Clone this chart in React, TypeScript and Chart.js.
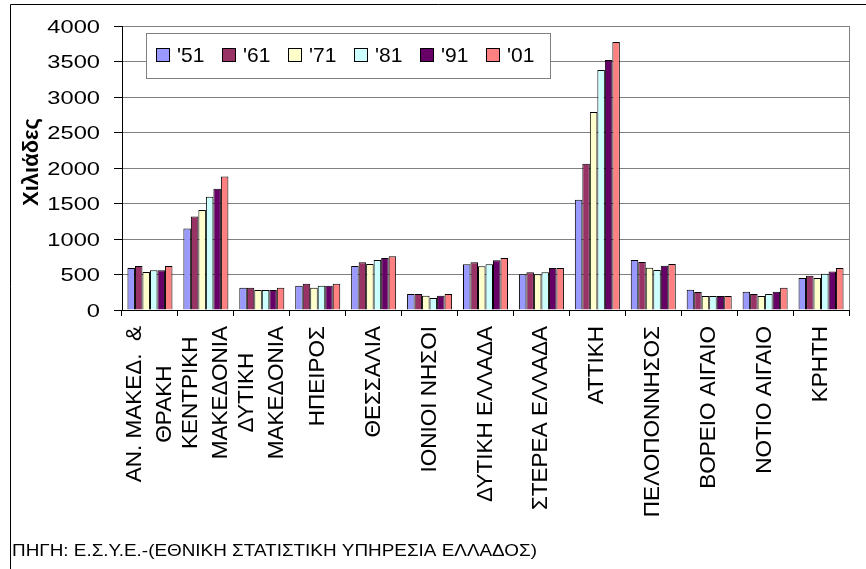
import React, { useEffect, useRef } from "react";
import { Chart, registerables } from "chart.js";

Chart.register(...registerables);

// ---------- data ----------
const categories: (string | string[])[] = [
  ["ΑΝ. ΜΑΚΕΔ.  &", "ΘΡΑΚΗ"],
  ["ΚΕΝΤΡΙΚΗ", "ΜΑΚΕΔΟΝΙΑ"],
  ["ΔΥΤΙΚΗ", "ΜΑΚΕΔΟΝΙΑ"],
  "ΗΠΕΙΡΟΣ",
  "ΘΕΣΣΑΛΙΑ",
  "ΙΟΝΙΟΙ ΝΗΣΟΙ",
  "ΔΥΤΙΚΗ ΕΛΛΑΔΑ",
  "ΣΤΕΡΕΑ ΕΛΛΑΔΑ",
  "ΑΤΤΙΚΗ",
  "ΠΕΛΟΠΟΝΝΗΣΟΣ",
  "ΒΟΡΕΙΟ ΑΙΓΑΙΟ",
  "ΝΟΤΙΟ ΑΙΓΑΙΟ",
  "ΚΡΗΤΗ",
];

const seriesLabels = ["'51", "'61", "'71", "'81", "'91", "'01"];
const seriesColors = ["#9999FF", "#993366", "#FFFFCC", "#CCFFFF", "#660066", "#FF8080"];

const y1951 = [592, 1148, 312, 340, 620, 224, 644, 504, 1552, 704, 286, 258, 450];
const y1961 = [620, 1316, 312, 368, 672, 224, 672, 532, 2059, 675, 253, 225, 483];
const y1971 = [536, 1409, 280, 312, 648, 200, 616, 504, 2790, 595, 197, 197, 450];
const y1981 = [560, 1596, 280, 340, 704, 168, 644, 532, 3381, 563, 197, 225, 511];
const y1991 = [560, 1708, 280, 340, 732, 200, 700, 592, 3522, 623, 197, 258, 544];
const y2001 = [620, 1880, 312, 368, 756, 224, 732, 592, 3775, 647, 197, 314, 591];

const seriesValues = [y1951, y1961, y1971, y1981, y1991, y2001];

const yMin = 0;
const yMax = 4000;
const yStep = 500;
const yTitle = "Χιλιάδες";
const sourceNote = "ΠΗΓΗ: Ε.Σ.Υ.Ε.-(ΕΘΝΙΚΗ ΣΤΑΤΙΣΤΙΚΗ ΥΠΗΡΕΣΙΑ ΕΛΛΑΔΟΣ)";

const FONT = "'Liberation Sans', Arial, sans-serif";

const decorPlugin = {
  id: "decor",
  beforeDraw(chart: any) {
    const ctx = chart.ctx as CanvasRenderingContext2D;
    ctx.save();
    ctx.fillStyle = "#ffffff";
    ctx.fillRect(0, 0, chart.width, chart.height);
    ctx.strokeStyle = "#000000";
    ctx.lineWidth = 1;
    ctx.beginPath();
    ctx.moveTo(10.5, chart.height);
    ctx.lineTo(10.5, 4.5);
    ctx.lineTo(chart.width, 4.5);
    ctx.stroke();
    ctx.restore();
  },
  afterDraw(chart: any) {
    const ctx = chart.ctx as CanvasRenderingContext2D;
    const ca = chart.chartArea;
    const xs = chart.scales.x;
    const ys = chart.scales.y;

    ctx.save();
    // plot area right border
    ctx.strokeStyle = "#808080";
    ctx.lineWidth = 1;
    ctx.beginPath();
    ctx.moveTo(Math.round(ca.right) + 0.5, ca.top);
    ctx.lineTo(Math.round(ca.right) + 0.5, ca.bottom);
    ctx.stroke();

    ctx.fillStyle = "#000000";

    // y tick labels (horizontally stretched like the original)
    const yFont = 18.5;
    ctx.font = `${yFont}px ${FONT}`;
    ctx.textAlign = "right";
    ctx.textBaseline = "alphabetic";
    ys.ticks.forEach((t: any) => {
      const py = ys.getPixelForValue(t.value);
      ctx.save();
      ctx.translate(ca.left - 22, py + 0.358 * yFont);
      ctx.scale(1.28, 1);
      ctx.fillText(String(t.value), 0, 0);
      ctx.restore();
    });

    // y title
    ctx.save();
    ctx.font = `bold 22px ${FONT}`;
    ctx.textAlign = "center";
    ctx.textBaseline = "alphabetic";
    ctx.translate(38, (ca.top + ca.bottom) / 2 - 6);
    ctx.rotate(-Math.PI / 2);
    ctx.fillText(yTitle, 0, 0);
    ctx.restore();

    // x labels, rotated, lines centred
    const xFont = 22.5;
    const cap = 0.716 * xFont;
    const lineGap = 30;
    ctx.font = `${xFont}px ${FONT}`;
    ctx.textAlign = "center";
    ctx.textBaseline = "alphabetic";
    categories.forEach((c, i) => {
      const lines = Array.isArray(c) ? c : [c];
      const px = xs.getPixelForValue(i);
      const maxW = Math.max(...lines.map((l) => ctx.measureText(l).width));
      ctx.save();
      ctx.translate(px, ca.bottom + 16);
      ctx.rotate(-Math.PI / 2);
      lines.forEach((l, j) => {
        const off = (j - (lines.length - 1) / 2) * lineGap - 2;
        ctx.fillText(l, -maxW / 2, off + cap / 2);
      });
      ctx.restore();
    });

    // legend
    const lx = 146, ly = 33, lw = 404, lh = 45;
    ctx.fillStyle = "#ffffff";
    ctx.fillRect(lx, ly, lw, lh);
    ctx.strokeStyle = "#808080";
    ctx.lineWidth = 1;
    ctx.strokeRect(lx + 0.5, ly + 0.5, lw, lh);
    ctx.font = `21px ${FONT}`;
    ctx.textAlign = "left";
    ctx.textBaseline = "alphabetic";
    chart.data.datasets.forEach((ds: any, i: number) => {
      const sx = 156 + i * 66;
      ctx.fillStyle = ds.backgroundColor;
      ctx.fillRect(sx, 48, 14, 14);
      ctx.strokeStyle = "#000000";
      ctx.strokeRect(sx + 0.5, 48.5, 13, 13);
      ctx.fillStyle = "#000000";
      ctx.fillText(ds.label, sx + 21, 62);
    });

    // source note
    ctx.font = `16.5px ${FONT}`;
    const w = ctx.measureText(sourceNote).width;
    ctx.save();
    ctx.translate(12, 556);
    ctx.scale(525 / w, 1);
    ctx.fillText(sourceNote, 0, 0);
    ctx.restore();

    ctx.restore();
  },
};

export default function App() {
  const ref = useRef<HTMLCanvasElement | null>(null);

  useEffect(() => {
    if (!ref.current) return;
    const chart = new Chart(ref.current, {
      type: "bar",
      data: {
        labels: categories.map((c) => (Array.isArray(c) ? c.join(" ") : c)),
        datasets: seriesLabels.map((lab, i) => ({
          label: lab,
          data: seriesValues[i],
          backgroundColor: seriesColors[i],
          borderColor: "#000000",
          borderWidth: 1,
          barPercentage: 1,
          categoryPercentage: 0.805,
        })),
      },
      options: {
        responsive: false,
        animation: false,
        devicePixelRatio: 1,
        layout: { padding: { left: 0, top: 26, right: 17, bottom: 0 } },
        plugins: { legend: { display: false }, tooltip: { enabled: false } },
        scales: {
          x: {
            offset: true,
            grid: {
              offset: true,
              drawOnChartArea: false,
              drawTicks: true,
              tickLength: 6,
              color: "#000000",
              tickColor: "#000000",
            },
            border: { color: "#000000", width: 1 },
            ticks: { display: false },
            afterFit(s: any) {
              s.height = 259;
            },
          },
          y: {
            min: yMin,
            max: yMax,
            ticks: { display: false, stepSize: yStep },
            grid: { color: "#808080", tickColor: "#000000", tickLength: 8 },
            border: { color: "#000000", width: 1 },
            afterFit(s: any) {
              s.width = 122;
            },
          },
        },
      } as any,
      plugins: [decorPlugin],
    });
    return () => chart.destroy();
  }, []);

  return (
    <div style={{ position: "absolute", left: 0, top: 0, width: 866, height: 569, overflow: "hidden", background: "#fff" }}>
      <canvas ref={ref} width={866} height={569} style={{ display: "block" }} />
    </div>
  );
}
